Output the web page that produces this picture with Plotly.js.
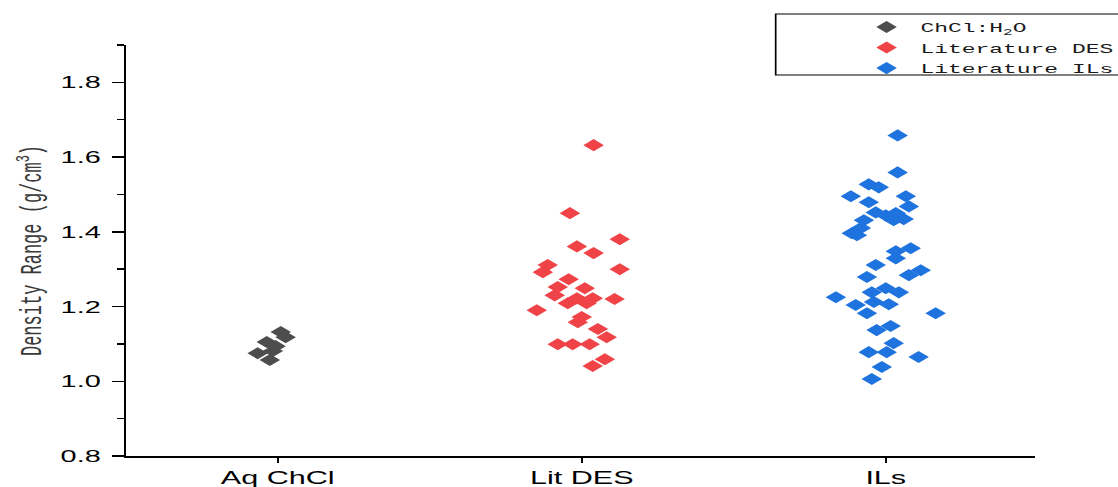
<!DOCTYPE html>
<html>
<head>
<meta charset="utf-8">
<script src="https://cdn.plot.ly/plotly-3.0.1.min.js"></script>
<style>
  html, body { margin: 0; padding: 0; background: #ffffff; overflow: hidden; }
  #wrap { width: 1118px; height: 487px; overflow: hidden; }
  #chart { width: 658px; height: 487px; transform: scaleX(1.6991); transform-origin: 0 0; }
</style>
</head>
<body>
<div id="wrap"><div id="chart"></div></div>
<script>
// Categories / tick labels
const categories = ['Aq ChCl', 'Lit DES', 'ILs'];
const seriesNames = ['ChCl:H<sub>2</sub>O', 'Literature DES', 'Literature ILs'];

// Aq ChCl (ChCl:H2O) densities (g/cm3) and horizontal jitter
const aqDensity = [1.132, 1.118, 1.105, 1.094, 1.075, 1.081, 1.057];
const aqJitter  = [0.010, 0.026, -0.036, -0.007, -0.066, -0.016, -0.026];

// Literature DES densities and jitter
const desDensity = [1.632, 1.450, 1.380, 1.361, 1.343, 1.311, 1.292, 1.300, 1.273, 1.252,
                    1.249, 1.230, 1.209, 1.222, 1.222, 1.209, 1.220, 1.190, 1.172, 1.158,
                    1.140, 1.118, 1.099, 1.099, 1.099, 1.059, 1.041];
const desJitter  = [0.039, -0.039, 0.125, -0.016, 0.039, -0.112, -0.128, 0.125, -0.043, -0.079,
                    0.010, -0.089, -0.046, -0.016, 0.036, 0.016, 0.108, -0.148, 0.000, -0.013,
                    0.053, 0.082, -0.079, -0.030, 0.026, 0.076, 0.036];

// Literature ILs densities and jitter
const ilDensity = [1.658, 1.559, 1.527, 1.519, 1.495, 1.495, 1.479, 1.468, 1.452, 1.444,
                   1.450, 1.434, 1.431, 1.431, 1.410, 1.391, 1.396, 1.348, 1.356, 1.329,
                   1.311, 1.284, 1.297, 1.279, 1.238, 1.249, 1.238, 1.225, 1.204, 1.212,
                   1.206, 1.182, 1.182, 1.137, 1.148, 1.102, 1.078, 1.078, 1.065, 1.038, 1.006];
const ilJitter  = [0.039, 0.039, -0.056, -0.023, -0.115, 0.066, -0.056, 0.076, -0.033, 0.000,
                   0.033, 0.059, 0.026, -0.072, -0.082, -0.095, -0.112, 0.033, 0.082, 0.033,
                   -0.033, 0.076, 0.115, -0.062, -0.046, 0.000, 0.043, -0.164, -0.099, -0.039,
                   0.010, -0.062, 0.164, -0.030, 0.016, 0.026, -0.056, 0.003, 0.108, -0.013, -0.046];

const colors = ['#4d4d4d', '#f04347', '#1f73de'];
const yTicks = [0.8, 1.0, 1.2, 1.4, 1.6, 1.8];

function xs(catIndex, jitter) { return jitter.map(j => catIndex + j); }

const groups = [
  { vals: aqDensity, jit: aqJitter },
  { vals: desDensity, jit: desJitter },
  { vals: ilDensity, jit: ilJitter }
];

const traces = groups.map((g, i) => ({
  type: 'scatter',
  mode: 'markers',
  name: seriesNames[i],
  x: xs(i, g.jit),
  y: g.vals,
  marker: { symbol: 'diamond', size: 9.3, color: colors[i], line: { width: 0 } },
  hoverinfo: 'x+y'
}));

const layout = {
  width: 658,
  height: 487,
  margin: { l: 73.6, r: 48.8, t: 45, b: 30.5, autoexpand: false },
  paper_bgcolor: '#ffffff',
  plot_bgcolor: '#ffffff',
  showlegend: true,
  legend: {
    x: 0.7996, xanchor: 'left',
    y: 1.081, yanchor: 'top',
    bgcolor: 'rgba(0,0,0,0)',
    borderwidth: 0,
    font: { family: 'Liberation Mono, monospace', size: 13.5, color: '#1a1a1a' },
    traceorder: 'normal'
  },
  xaxis: {
    range: [-0.5, 2.49],
    tickvals: [0, 1, 2],
    ticktext: categories,
    showgrid: false,
    zeroline: false,
    showline: true,
    linecolor: '#000000',
    linewidth: 1.5,
    ticks: 'outside',
    ticklen: 5,
    tickwidth: 1,
    tickcolor: '#000000',
    tickfont: { family: 'Liberation Sans, Arial, sans-serif', size: 18, color: '#000000' },
    fixedrange: true
  },
  yaxis: {
    range: [0.8, 1.9],
    tickvals: yTicks,
    ticktext: yTicks.map(v => v.toFixed(1)),
    showgrid: false,
    zeroline: false,
    showline: true,
    linecolor: '#000000',
    linewidth: 1.3,
    ticks: 'outside',
    ticklen: 7,
    tickwidth: 1.5,
    tickcolor: '#000000',
    ticklabelstandoff: 3,
    minor: { dtick: 0.1, ticks: 'outside', ticklen: 4, tickwidth: 1.5, tickcolor: '#000000', showgrid: false },
    tickfont: { family: 'Liberation Sans, Arial, sans-serif', size: 17, color: '#000000' },
    title: {
      text: 'Density Range (g/cm<sup>3</sup>)',
      font: { family: 'Liberation Mono, monospace', size: 17, color: '#3a3a3a' },
      standoff: 6
    },
    fixedrange: true
  },
  shapes: [{
    type: 'rect', xref: 'paper', yref: 'paper',
    x0: 0.715, x1: 1.12, y0: 0.927, y1: 1.0753,
    line: { color: '#000000', width: 1 },
    fillcolor: 'rgba(0,0,0,0)',
    layer: 'above'
  }]
};

Plotly.newPlot('chart', traces, layout, { displayModeBar: false, responsive: false, staticPlot: true });
</script>
</body>
</html>
